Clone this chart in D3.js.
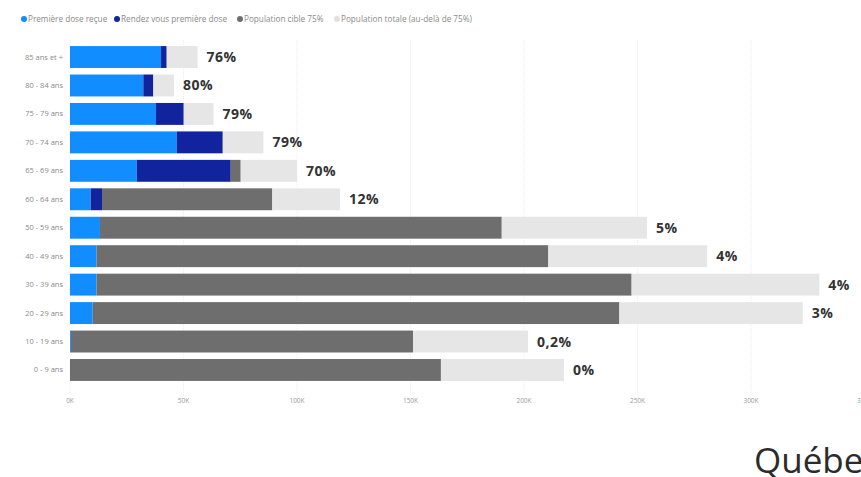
<!DOCTYPE html>
<html>
<head>
<meta charset="utf-8">
<script src="https://cdn.jsdelivr.net/npm/d3@7"></script>
<style>
  body { margin: 0; background: #fff; }
  svg { display: block; font-family: "Open Sans", sans-serif; }
</style>
</head>
<body>
<div id="chart"></div>
<script>
// data (values in thousands)
const groups = ["85 ans et +", "80 - 84 ans", "75 - 79 ans", "70 - 74 ans", "65 - 69 ans", "60 - 64 ans",
  "50 - 59 ans", "40 - 49 ans", "30 - 39 ans", "20 - 29 ans", "10 - 19 ans", "0 - 9 ans"];
const premiereDose = [40.1, 32.3, 37.9, 47.0, 29.4, 9.1, 13.2, 11.7, 11.7, 10.0, 0.4, 0];
const rendezVous   = [2.5, 4.4, 12.2, 20.3, 41.4, 5.0, 0, 0, 0, 0, 0, 0];
const cible75      = [0, 0, 0, 0, 4.4, 75.0, 177.0, 199.0, 235.7, 232.0, 150.7, 163.4];
const totale       = [13.6, 9.1, 13.1, 17.9, 24.8, 29.8, 64.0, 70.0, 82.7, 80.8, 50.7, 54.2];
const pctLabels    = ["76%", "80%", "79%", "79%", "70%", "12%", "5%", "4%", "4%", "3%", "0,2%", "0%"];
const seriesNames  = ["Première dose reçue", "Rendez vous première dose", "Population cible 75%", "Population totale (au-delà de 75%)"];
const seriesColors = ["#118DFF", "#12239E", "#6e6e6e", "#e6e6e6"];
const xTicks = [0, 50, 100, 150, 200, 250, 300, 350];

const width = 861, height = 477;
const svg = d3.select("#chart").append("svg")
  .attr("width", width)
  .attr("height", height);

let table = groups.map((g, i) => ({
  group: g,
  s0: premiereDose[i], s1: rendezVous[i], s2: cible75[i], s3: totale[i],
  label: pctLabels[i]
}));

let stack = d3.stack().keys(["s0", "s1", "s2", "s3"])(table);

let x = d3.scaleLinear().domain([0, 350]).range([70, 864.5]);
let y = d3.scaleBand().domain(groups).range([42.8, 384.2]).paddingInner(0.23).paddingOuter(0.115);

// gridlines
svg.append("g")
  .selectAll("line")
  .data(xTicks)
  .enter()
  .append("line")
  .attr("x1", d => x(d)).attr("x2", d => x(d))
  .attr("y1", 40).attr("y2", 395)
  .attr("stroke", "#eeeeee")
  .attr("stroke-width", 1)
  .attr("stroke-dasharray", "1,1");

// x axis labels
svg.append("g")
  .selectAll("text")
  .data(xTicks)
  .enter()
  .append("text")
  .attr("x", d => x(d))
  .attr("y", 403)
  .attr("text-anchor", "middle")
  .style("font-size", "6.5px")
  .style("fill", "#9a9a9a")
  .text(d => d + "K");

// bars
svg.append("g")
  .selectAll("g")
  .data(stack)
  .enter()
  .append("g")
  .attr("fill", (d, i) => seriesColors[i])
  .selectAll("rect")
  .data(d => d)
  .enter()
  .append("rect")
  .attr("x", d => x(d[0]))
  .attr("y", d => y(d.data.group))
  .attr("width", d => Math.max(0, x(d[1]) - x(d[0])))
  .attr("height", y.bandwidth());

// y labels
svg.append("g")
  .selectAll("text")
  .data(groups)
  .enter()
  .append("text")
  .attr("x", 63)
  .attr("y", d => y(d) + y.bandwidth() / 2 + 2.5)
  .attr("text-anchor", "end")
  .style("font-size", "7.5px")
  .style("fill", "#8a8a8a")
  .text(d => d);

// percent labels
svg.append("g")
  .selectAll("text")
  .data(table)
  .enter()
  .append("text")
  .attr("x", d => x(d.s0 + d.s1 + d.s2 + d.s3) + 9)
  .attr("y", d => y(d.group) + y.bandwidth() / 2 + 5)
  .style("font-size", "14px")
  .style("font-weight", "bold")
  .style("fill", "#333")
  .style("letter-spacing", "0.5px")
  .text(d => d.label);

// legend
let legendX = [21, 114, 237, 334];
let legend = svg.append("g")
  .selectAll("g")
  .data(seriesNames)
  .enter()
  .append("g")
  .attr("transform", (d, i) => `translate(${legendX[i]}, 19)`);

legend.append("circle")
  .attr("cx", 3).attr("cy", 0).attr("r", 3)
  .attr("fill", (d, i) => i == 3 ? "#e0e0e0" : seriesColors[i]);

legend.append("text")
  .attr("x", 7).attr("y", 2.8)
  .style("font-size", "8.2px")
  .style("fill", "#8a8a8a")
  .text(d => d);

// logo text
svg.append("text")
  .attr("x", 754)
  .attr("y", 473)
  .style("font-size", "35px")
  .style("font-family", "'Open Sans', sans-serif")
  .style("fill", "#2b2b2b")
  .text("Québec");
</script>
</body>
</html>
